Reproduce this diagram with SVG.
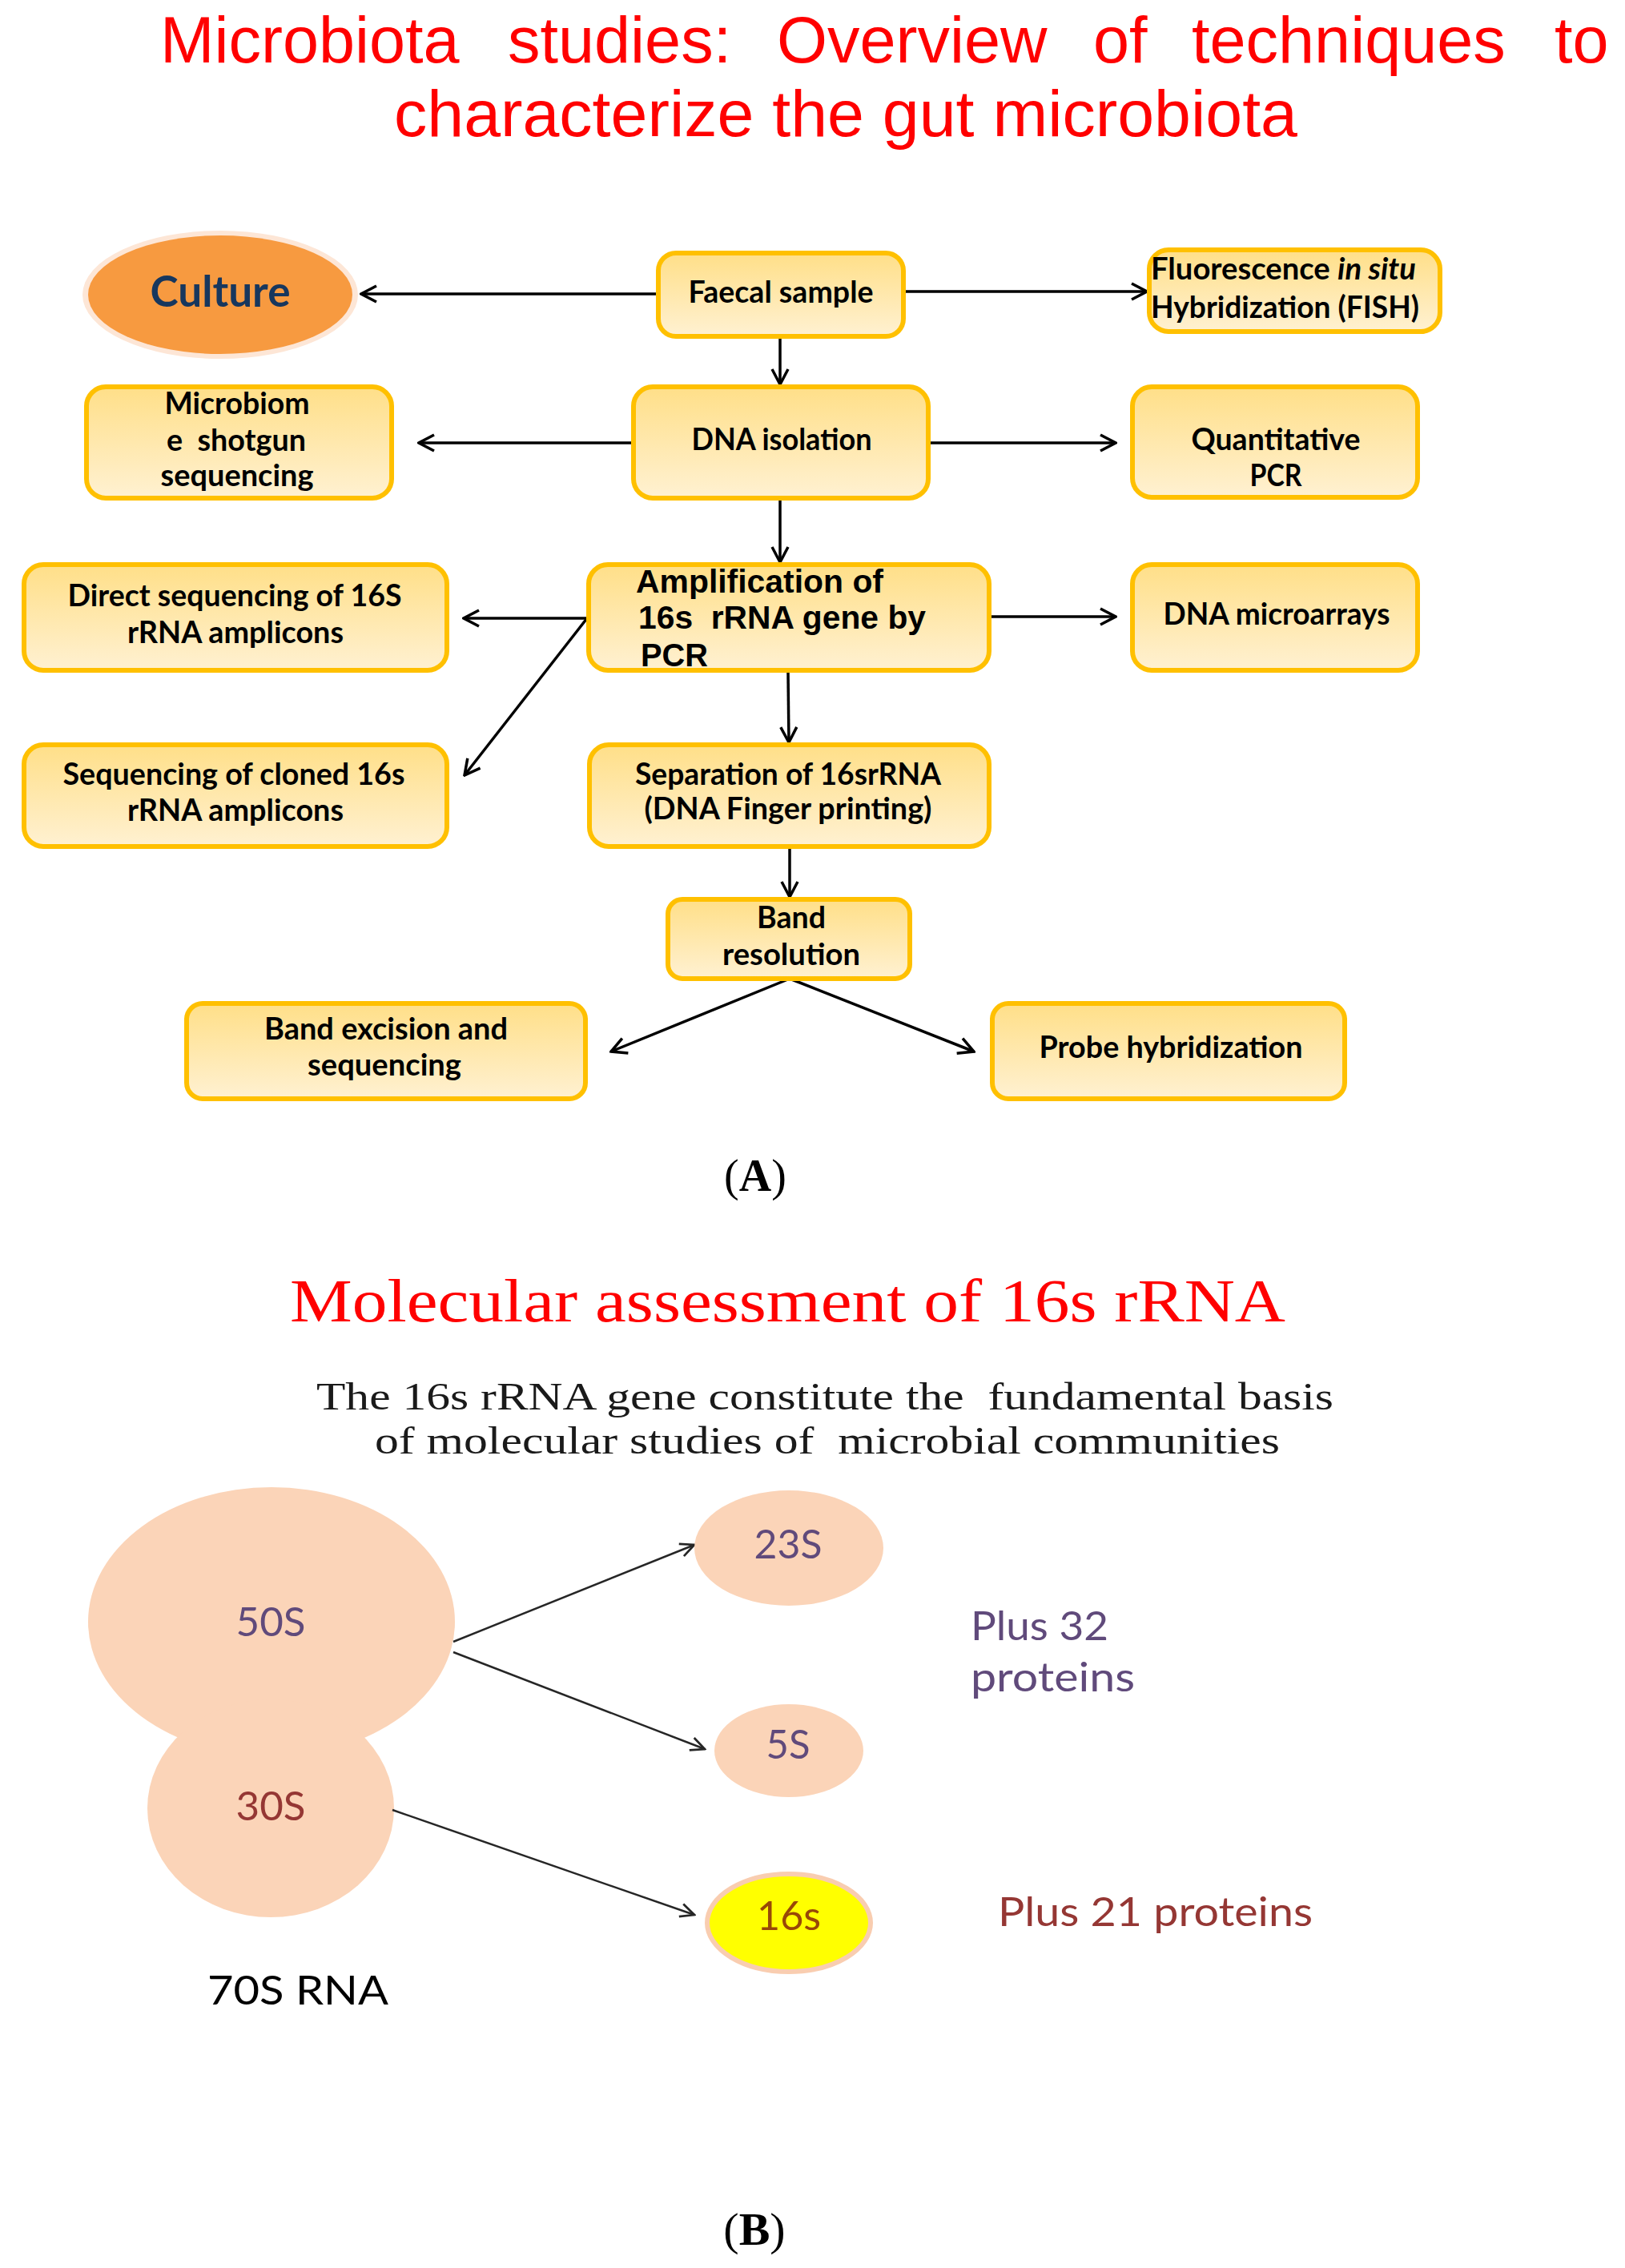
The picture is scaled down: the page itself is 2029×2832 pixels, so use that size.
<svg xmlns="http://www.w3.org/2000/svg" width="2029" height="2832" viewBox="0 0 2029 2832">
<defs>
<linearGradient id="boxfill" x1="0" y1="0" x2="0" y2="1">
<stop offset="0" stop-color="#ffdf88"/>
<stop offset="1" stop-color="#fff1d2"/>
</linearGradient>
<marker id="ah" viewBox="0 0 24 24" refX="22" refY="12" markerWidth="24" markerHeight="24" markerUnits="userSpaceOnUse" orient="auto">
<path d="M3,2 L22,12 L3,22" fill="none" stroke="#000" stroke-width="3.5"/>
</marker>
<marker id="ah2" viewBox="0 0 24 24" refX="22" refY="12" markerWidth="22" markerHeight="22" markerUnits="userSpaceOnUse" orient="auto">
<path d="M3,3 L22,12 L3,21" fill="none" stroke="#262626" stroke-width="3"/>
</marker>
</defs>
<style>
.box{fill:url(#boxfill);stroke:#ffc000;stroke-width:6}
.bt{font-family:Lato,"Open Sans","Liberation Sans",sans-serif;font-weight:bold;font-size:38px;fill:#000;text-anchor:middle}
.ba{font-family:"Liberation Sans",Arial,sans-serif;font-weight:bold;font-size:40px;fill:#000;white-space:pre}
.conn{fill:none;stroke:#000;stroke-width:3.5;marker-end:url(#ah)}
.conn2{fill:none;stroke:#262626;stroke-width:2.5;marker-end:url(#ah2)}
.title{font-family:"Liberation Sans",Arial,sans-serif;font-size:81px;fill:#ff0000}
.serif{font-family:"Liberation Serif","Times New Roman",serif}
.rib{fill:#fbd4b8}
.cal{font-family:Lato,"Open Sans","Liberation Sans",sans-serif;font-size:50px}
</style>
<rect width="2029" height="2832" fill="#ffffff"/>

<g id="title">
<text class="title" y="78"><tspan x="200">Microbiota</tspan><tspan x="634">studies:</tspan><tspan x="970">Overview</tspan><tspan x="1365">of</tspan><tspan x="1488">techniques</tspan><tspan x="1941">to</tspan></text>
<text class="title" x="1056" y="170" text-anchor="middle" textLength="1128" lengthAdjust="spacingAndGlyphs">characterize the gut microbiota</text>
</g>

<g id="connectors">
<path class="conn" d="M819,367 L451,367"/>
<path class="conn" d="M1131,364 L1432,364"/>
<path class="conn" d="M974,423 L974,480"/>
<path class="conn" d="M788,553 L523,553"/>
<path class="conn" d="M1162,553 L1393,553"/>
<path class="conn" d="M974,625 L974,702"/>
<path class="conn" d="M733,772 L579,772"/>
<path class="conn" d="M733,772 L580,968"/>
<path class="conn" d="M1237,770 L1393,770"/>
<path class="conn" d="M984,840 L985,927"/>
<path class="conn" d="M986,1060 L986,1120"/>
<path class="conn" d="M986,1222 L763,1313"/>
<path class="conn" d="M986,1222 L1216,1313"/>
</g>

<g id="culture">
<ellipse cx="275" cy="368" rx="172" ry="80" fill="#fde6d6"/>
<ellipse cx="275" cy="368" rx="165" ry="74" fill="#f79a40"/>
<text x="275" y="383" text-anchor="middle" font-family="Lato,'Open Sans','Liberation Sans',sans-serif" font-weight="bold" font-size="54" fill="#17375e" textLength="175" lengthAdjust="spacingAndGlyphs">Culture</text>
</g>

<g id="faecal">
<rect class="box" x="822" y="316" width="306" height="104" rx="22"/>
<text class="bt" x="975" y="378" textLength="231" lengthAdjust="spacingAndGlyphs">Faecal sample</text>
</g>

<g id="fish">
<rect class="box" x="1435" y="312" width="363" height="102" rx="24"/>
<text class="bt" x="1437" y="349" text-anchor="start" style="text-anchor:start" textLength="331" lengthAdjust="spacingAndGlyphs">Fluorescence <tspan font-style="italic">in situ</tspan></text>
<text class="bt" x="1437" y="397" style="text-anchor:start" textLength="335" lengthAdjust="spacingAndGlyphs">Hybridization (FISH)</text>
</g>

<g id="dna-isolation">
<rect class="box" x="791" y="483" width="368" height="139" rx="24"/>
<text class="bt" x="976" y="562" textLength="225" lengthAdjust="spacingAndGlyphs">DNA isolation</text>
</g>

<g id="microbiome">
<rect class="box" x="108" y="483" width="381" height="139" rx="24"/>
<text class="bt" x="296" y="517" textLength="181" lengthAdjust="spacingAndGlyphs">Microbiom</text>
<text class="bt" x="295" y="563" textLength="174" lengthAdjust="spacingAndGlyphs" style="white-space:pre">e  shotgun</text>
<text class="bt" x="296" y="607" textLength="191" lengthAdjust="spacingAndGlyphs">sequencing</text>
</g>

<g id="qpcr">
<rect class="box" x="1414" y="483" width="356" height="138" rx="24"/>
<text class="bt" x="1593" y="562" textLength="211" lengthAdjust="spacingAndGlyphs">Quantitative</text>
<text class="bt" x="1593" y="607" textLength="65" lengthAdjust="spacingAndGlyphs">PCR</text>
</g>

<g id="amplification">
<rect class="box" x="735" y="705" width="500" height="132" rx="24"/>
<text class="ba" x="794" y="740" textLength="309" lengthAdjust="spacingAndGlyphs">Amplification of</text>
<text class="ba" x="797" y="785" textLength="359" lengthAdjust="spacingAndGlyphs">16s  rRNA gene by</text>
<text class="ba" x="800" y="832" textLength="84" lengthAdjust="spacingAndGlyphs">PCR</text>
</g>

<g id="direct-seq">
<rect class="box" x="30" y="705" width="528" height="132" rx="24"/>
<text class="bt" x="293" y="757" textLength="417" lengthAdjust="spacingAndGlyphs">Direct sequencing of 16S</text>
<text class="bt" x="294" y="803" textLength="270" lengthAdjust="spacingAndGlyphs">rRNA amplicons</text>
</g>

<g id="microarrays">
<rect class="box" x="1414" y="705" width="356" height="132" rx="24"/>
<text class="bt" x="1594" y="780" textLength="283" lengthAdjust="spacingAndGlyphs">DNA microarrays</text>
</g>

<g id="cloned-seq">
<rect class="box" x="30" y="930" width="528" height="127" rx="24"/>
<text class="bt" x="292" y="980" textLength="427" lengthAdjust="spacingAndGlyphs">Sequencing of cloned 16s</text>
<text class="bt" x="294" y="1025" textLength="270" lengthAdjust="spacingAndGlyphs">rRNA amplicons</text>
</g>

<g id="separation">
<rect class="box" x="736" y="930" width="499" height="127" rx="24"/>
<text class="bt" x="984" y="980" textLength="382" lengthAdjust="spacingAndGlyphs">Separation of 16srRNA</text>
<text class="bt" x="984" y="1023" textLength="359" lengthAdjust="spacingAndGlyphs">(DNA Finger printing)</text>
</g>

<g id="band-resolution">
<rect class="box" x="834" y="1123" width="302" height="99" rx="18"/>
<text class="bt" x="988" y="1159" textLength="86" lengthAdjust="spacingAndGlyphs">Band</text>
<text class="bt" x="988" y="1205" textLength="172" lengthAdjust="spacingAndGlyphs">resolution</text>
</g>

<g id="band-excision">
<rect class="box" x="233" y="1253" width="498" height="119" rx="20"/>
<text class="bt" x="482" y="1298" textLength="304" lengthAdjust="spacingAndGlyphs">Band excision and</text>
<text class="bt" x="480" y="1343" textLength="192" lengthAdjust="spacingAndGlyphs">sequencing</text>
</g>

<g id="probe">
<rect class="box" x="1239" y="1253" width="440" height="119" rx="20"/>
<text class="bt" x="1462" y="1321" textLength="329" lengthAdjust="spacingAndGlyphs">Probe hybridization</text>
</g>

<g id="label-a">
<text class="serif" x="943" y="1487" text-anchor="middle" font-size="56" fill="#000">(<tspan font-weight="bold">A</tspan>)</text>
</g>

<g id="part-b-title">
<text class="serif" x="362" y="1650" font-size="76" fill="#ff0000" textLength="1243" lengthAdjust="spacingAndGlyphs">Molecular assessment of 16s rRNA</text>
<text class="serif" x="395" y="1760" font-size="48" fill="#1a1a1a" textLength="1270" lengthAdjust="spacingAndGlyphs" style="white-space:pre">The 16s rRNA gene constitute the  fundamental basis</text>
<text class="serif" x="468" y="1815" font-size="48" fill="#1a1a1a" textLength="1130" lengthAdjust="spacingAndGlyphs" style="white-space:pre">of molecular studies of  microbial communities</text>
</g>

<g id="ribosome">
<ellipse class="rib" cx="339" cy="2025" rx="229" ry="168"/>
<ellipse class="rib" cx="338" cy="2258" rx="154" ry="136"/>
<text class="cal" x="338" y="2043" text-anchor="middle" fill="#604a7b" textLength="87" lengthAdjust="spacingAndGlyphs">50S</text>
<text class="cal" x="338" y="2273" text-anchor="middle" fill="#953734" textLength="87" lengthAdjust="spacingAndGlyphs">30S</text>
<text class="cal" x="259" y="2503" font-size="56" fill="#000" textLength="226" lengthAdjust="spacingAndGlyphs">70S RNA</text>
</g>

<g id="connectors-b">
<path class="conn2" d="M566,2050 L867,1929"/>
<path class="conn2" d="M566,2063 L880,2184"/>
<path class="conn2" d="M490,2260 L867,2391"/>
</g>

<g id="r23s">
<ellipse class="rib" cx="985" cy="1933" rx="118" ry="72"/>
<text class="cal" x="984" y="1946" text-anchor="middle" fill="#604a7b" textLength="85" lengthAdjust="spacingAndGlyphs">23S</text>
</g>

<g id="r5s">
<ellipse class="rib" cx="985" cy="2186" rx="93" ry="58"/>
<text class="cal" x="984" y="2196" text-anchor="middle" fill="#604a7b" textLength="55" lengthAdjust="spacingAndGlyphs">5S</text>
</g>

<g id="r16s">
<ellipse cx="985" cy="2401" rx="102" ry="61" fill="#ffff00" stroke="#f9cdb0" stroke-width="6"/>
<text class="cal" x="985" y="2410" text-anchor="middle" fill="#984807" textLength="80" lengthAdjust="spacingAndGlyphs">16s</text>
</g>

<g id="protein-labels">
<text class="cal" x="1212" y="2048" font-size="48" fill="#604a7b" textLength="172" lengthAdjust="spacingAndGlyphs">Plus 32</text>
<text class="cal" x="1212" y="2112" font-size="48" fill="#604a7b" textLength="205" lengthAdjust="spacingAndGlyphs">proteins</text>
<text class="cal" x="1246" y="2405" font-size="48" fill="#953734" textLength="393" lengthAdjust="spacingAndGlyphs">Plus 21 proteins</text>
</g>

<g id="label-b">
<text class="serif" x="942" y="2803" text-anchor="middle" font-size="58" fill="#000">(<tspan font-weight="bold">B</tspan>)</text>
</g>
</svg>
